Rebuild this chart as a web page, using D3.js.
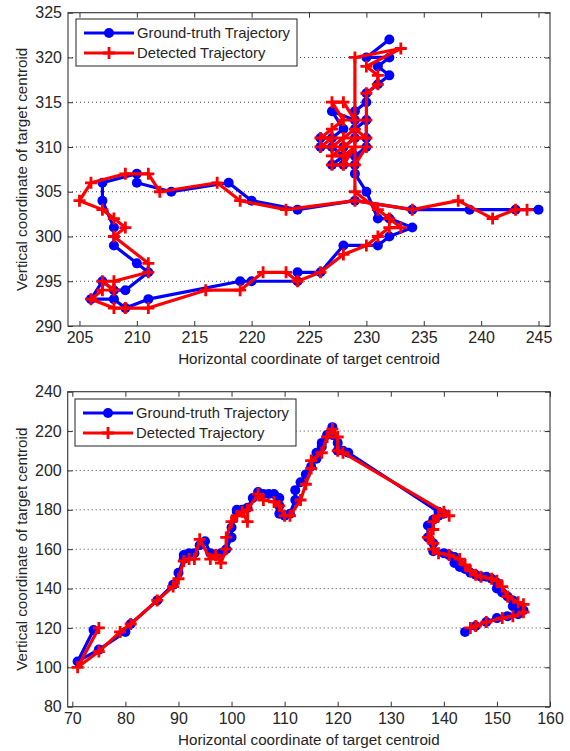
<!DOCTYPE html>
<html>
<head>
<meta charset="utf-8">
<script src="https://cdn.jsdelivr.net/npm/d3@7"></script>
<style>
  body { margin: 0; background: #fff; }
  text { font-family: Arial, "Liberation Sans", Helvetica, sans-serif; fill: #262626; }
</style>
</head>
<body>
<svg id="chart" width="570" height="751"></svg>
<script>
// ---- Sequence 1: centroid trajectories (x, y) ----
const topTruth = [
  [232,322],[230,320],[232,320],[231,319],[232,318],[231,317],[230,316],[230,315],[229,314],[229,313],
  [227,314],[228,312],[227,311],[226,311],[226,310],[227,310],[228,309],[227,308],[228,308],[228,310],
  [229,311],[229,312],[230,313],[230,311],[230,310],[229,309],[229,308],[229,307],[230,305],[231,302],
  [232,302],[234,301],[232,300],[231,299],[228,299],[226,296],[224,296],[224,295],[220,295],[219,295],
  [211,293],[209,292],[208,293],[206,293],[207,295],[208,294],[209,294],[211,296],[210,297],[208,299],
  [208,301],[207,304],[207,306],[210,307],[210,306],[213,305],[218,306],[220,304],[224,303],[229,304],
  [234,303],[239,303],[243,303],[245,303]
];
const topDetected = [
  [229,313],[228,315],[227,315],[228,313],[227,312],[226,311],[227,311],[226,310],[227,310],[228,311],
  [229,312],[230,311],[229,311],[228,310],[227,309],[228,309],[229,310],[228,308],[227,308],[229,308],
  [230,310],[230,313],[230,316],[231,317],[231,318],[230,319],[233,321],[229,320],[229,305],[231,303],
  [232,302],[233,301],[232,301],[231,300],[230,299],[228,298],[226,296],[224,295],[223,296],[221,296],
  [219,294],[216,294],[211,292],[209,292],[208,292],[206,293],[207,294],[207,295],[208,294],[208,295],
  [211,296],[211,297],[208,300],[209,301],[208,302],[207,303],[205,304],[206,306],[209,307],[211,307],
  [212,305],[217,306],[219,304],[223,303],[229,304],[234,303],[238,304],[241,302],[243,303],[244,303]
];
const topXTicks = [205,210,215,220,225,230,235,240,245];
const topYTicks = [290,295,300,305,310,315,320,325];

// ---- Sequence 2: centroid trajectories (x, y) ----
const bottomTruth = [
  [74,119],[71,103],[75,109],[80,118],[81,122],[86,134],[89,142],[90,148],[91,155],[91,157],
  [92,158],[93,158],[94,162],[95,164],[96,158],[97,157],[98,158],[99,160],[100,166],[100,171],
  [101,179],[101,180],[102,180],[103,181],[104,186],[105,189],[106,188],[107,188],[108,188],[109,186],
  [109,182],[109,178],[110,177],[111,178],[112,185],[112,190],[113,194],[114,198],[115,202],[116,206],
  [116,209],[117,212],[117,214],[118,218],[119,222],[119,218],[120,214],[120,210],[121,210],[122,209],
  [139,179],[140,178],[139,177],[138,175],[137,172],[137,166],[138,163],[138,159],[140,158],[141,157],
  [142,156],[142,153],[143,151],[144,150],[145,148],[146,147],[147,146],[148,146],[149,145],[150,143],
  [150,140],[151,138],[152,136],[153,134],[153,131],[154,130],[155,129],[154,127],[152,126],[150,125],
  [148,123],[146,121],[144,118]
];
const bottomDetected = [
  [75,120],[71,100],[75,108],[79,118],[81,122],[86,134],[89,141],[90,145],[91,154],[92,155],
  [93,155],[94,165],[96,155],[97,157],[98,153],[99,160],[99,166],[100,174],[101,177],[102,179],
  [103,174],[103,180],[105,188],[106,185],[108,184],[109,182],[110,177],[111,177],[113,185],[114,193],
  [115,201],[115,205],[117,209],[118,217],[119,221],[120,217],[120,210],[121,209],[140,179],[141,177],
  [139,177],[138,174],[138,170],[137,166],[138,163],[138,160],[139,158],[141,157],[143,155],[144,152],
  [145,149],[146,147],[147,146],[149,145],[150,144],[151,141],[152,136],[154,133],[155,132],[155,128],
  [153,126],[151,125],[148,123],[146,121],[145,120]
];
const bottomXTicks = [70,80,90,100,110,120,130,140,150,160];
const bottomYTicks = [80,100,120,140,160,180,200,220,240];

const seriesNames = ["Ground-truth Trajectory", "Detected Trajectory"];
const xTitle = "Horizontal coordinate of target centroid";
const yTitle = "Vertical coordinate of target centroid";

const BLUE = "#0000ff", RED = "#ff0000";
const svg = d3.select("#chart");

function truthMarker(sel) {
  sel.append("circle").attr("r", 5).attr("fill", BLUE);
}
function detectedMarker(sel) {
  sel.append("path").attr("d", "M-6,0H6M0,-6V6")
    .attr("stroke", RED).attr("stroke-width", 2.8).attr("fill", "none");
}

function drawPanel(cfg) {
  const { left, right, top, bottom } = cfg.box;
  const x = d3.scaleLinear().domain(cfg.xDomain).range([left, right]);
  const y = d3.scaleLinear().domain(cfg.yDomain).range([bottom, top]);
  const g = svg.append("g");

  // dotted horizontal grid
  g.append("g").selectAll("line")
    .data(cfg.yTicks.filter(v => v > cfg.yDomain[0] && v < cfg.yDomain[1]))
    .join("line")
    .attr("x1", left).attr("x2", right)
    .attr("y1", d => y(d)).attr("y2", d => y(d))
    .attr("stroke", "#444").attr("stroke-width", 1)
    .attr("stroke-dasharray", "1,3");

  // axes with inward ticks on all four sides
  const tick = 5;
  const ax = (gen, tr, labels) => {
    const a = g.append("g").attr("transform", tr).call(gen);
    a.select(".domain").remove();
    a.selectAll(".tick line").attr("stroke", "#333");
    if (!labels) a.selectAll(".tick text").remove();
    else a.selectAll(".tick text").attr("font-size", 16).attr("fill", "#262626")
          .style("font-family", "Arial, 'Liberation Sans', sans-serif");
    return a;
  };
  ax(d3.axisBottom(x).tickValues(cfg.xTicks).tickSize(-tick).tickPadding(6), `translate(0,${bottom})`, true);
  ax(d3.axisTop(x).tickValues(cfg.xTicks).tickSize(-tick), `translate(0,${top})`, false);
  ax(d3.axisLeft(y).tickValues(cfg.yTicks).tickSize(-tick).tickPadding(6), `translate(${left},0)`, true);
  ax(d3.axisRight(y).tickValues(cfg.yTicks).tickSize(-tick), `translate(${right},0)`, false);

  g.append("rect").attr("x", left).attr("y", top)
    .attr("width", right - left).attr("height", bottom - top)
    .attr("fill", "none").attr("stroke", "#333").attr("stroke-width", 1.1);

  // trajectories
  const line = d3.line().x(d => x(d[0])).y(d => y(d[1]));
  const clip = "clip" + cfg.id;
  svg.append("clipPath").attr("id", clip).append("rect")
    .attr("x", left).attr("y", top).attr("width", right - left).attr("height", bottom - top);
  const plot = g.append("g").attr("clip-path", `url(#${clip})`);

  plot.append("path").datum(cfg.truth).attr("d", line)
    .attr("fill", "none").attr("stroke", BLUE).attr("stroke-width", 3.2)
    .attr("stroke-linejoin", "round");
  plot.append("g").selectAll("g").data(cfg.truth).join("g")
    .attr("transform", d => `translate(${x(d[0])},${y(d[1])})`)
    .call(truthMarker);

  plot.append("path").datum(cfg.detected).attr("d", line)
    .attr("fill", "none").attr("stroke", RED).attr("stroke-width", 3.2)
    .attr("stroke-linejoin", "round");
  plot.append("g").selectAll("g").data(cfg.detected).join("g")
    .attr("transform", d => `translate(${x(d[0])},${y(d[1])})`)
    .each(function () { detectedMarker(d3.select(this)); });

  // axis titles
  g.append("text").attr("x", (left + right) / 2).attr("y", cfg.xTitleY)
    .attr("text-anchor", "middle").attr("font-size", 15.2).text(xTitle);
  g.append("text")
    .attr("transform", `translate(${cfg.yTitleX},${(top + bottom) / 2}) rotate(-90)`)
    .attr("text-anchor", "middle").attr("font-size", 15.2).text(yTitle);

  // legend
  const lg = g.append("g").attr("transform", `translate(${cfg.legend[0]},${cfg.legend[1]})`);
  lg.append("rect").attr("width", 221).attr("height", 47)
    .attr("fill", "#fff").attr("stroke", "#222").attr("stroke-width", 1);
  const rows = [
    { name: seriesNames[0], color: BLUE, mk: truthMarker, dy: 14 },
    { name: seriesNames[1], color: RED, mk: detectedMarker, dy: 34 }
  ];
  rows.forEach(r => {
    lg.append("line").attr("x1", 8).attr("x2", 58).attr("y1", r.dy).attr("y2", r.dy)
      .attr("stroke", r.color).attr("stroke-width", 3.2);
    const m = lg.append("g").attr("transform", `translate(33,${r.dy})`);
    r.mk(m);
    lg.append("text").attr("x", 61).attr("y", r.dy).attr("dy", "0.36em")
      .attr("font-size", 14.8).text(r.name);
  });
}

drawPanel({
  id: "a",
  box: { left: 68, right: 550, top: 12.7, bottom: 326 },
  xDomain: [204, 246], yDomain: [290, 325],
  xTicks: topXTicks, yTicks: topYTicks,
  truth: topTruth, detected: topDetected,
  xTitleY: 364, yTitleX: 27, legend: [76, 19]
});
drawPanel({
  id: "b",
  box: { left: 67.7, right: 550, top: 391.7, bottom: 706.7 },
  xDomain: [69.13, 160], yDomain: [80, 240],
  xTicks: bottomXTicks, yTicks: bottomYTicks,
  truth: bottomTruth, detected: bottomDetected,
  xTitleY: 745, yTitleX: 27, legend: [75, 399]
});
</script>
</body>
</html>
